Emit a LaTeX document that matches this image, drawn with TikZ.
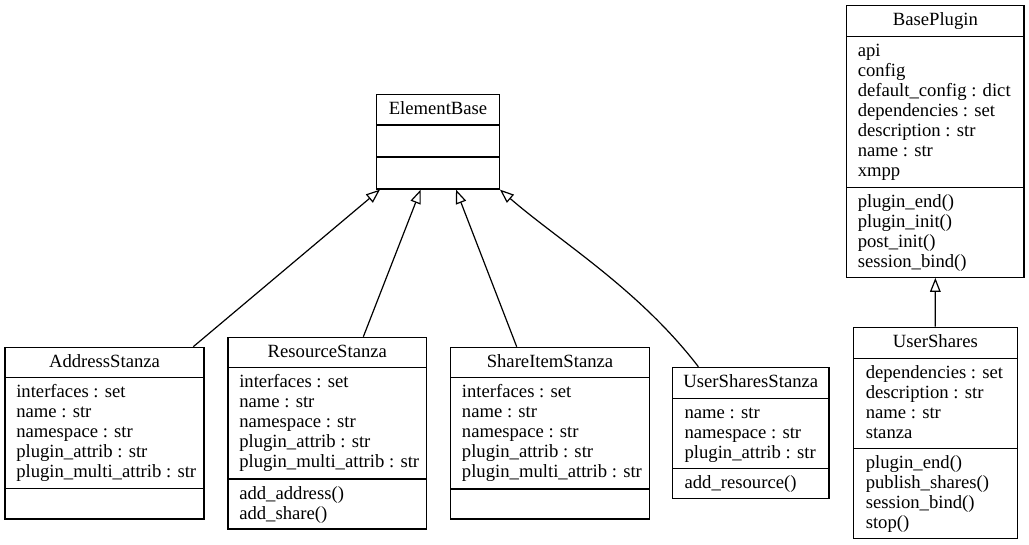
\documentclass[tikz,border=0pt]{standalone}
\usepackage{fontspec}
\setmainfont{Liberation Serif}
\usetikzlibrary{arrows.meta}
% class box: name, left, top, right, bottom, first divider, second divider, title
\newcommand{\classbox}[8]{%
  \node[classbox, minimum width={(#4-#2)*0.75pt}, minimum height={(#5-#3)*0.75pt}] (#1) at ({(#2+#4)/2},{(#3+#5)/2}) {};
  \draw[line width=0.9pt] (#2,#6) -- (#4,#6);
  \draw[line width=0.9pt] (#2,#7) -- (#4,#7);
  \node[anchor=base] (#1-name) at ({(#2+#4)/2},#3+20) {#8};
}

\begin{document}
\begin{tikzpicture}[x=0.75pt, y=-0.75pt, font=\fontsize{14}{15}\selectfont,
  classbox/.style={draw, line width=0.9pt, inner sep=0pt},
  rows/.style={anchor=base west, inner sep=0pt},
  inherit/.style={line width=0.9pt, -{Triangle[open, length=10.5pt, width=8pt]}}]
			%%%%% START %%%%%
			\useasboundingbox (0,0) rectangle (1029,545);
			
			\classbox{eb}{376.7}{94.5}{499.3}{189}{125}{157}{ElementBase}
			
			\classbox{bp}{846.7}{5.5}{1024}{277.3}{36.5}{187.3}{BasePlugin}
			\node[rows] (bp-attr) at (857.5,56.5) {\begin{tabular}[t]{@{}l@{}}api\\config\\default\_config : dict\\dependencies : set\\description : str\\name : str\\xmpp\end{tabular}};
			\node[rows] (bp-meth) at (857.5,207.3) {\begin{tabular}[t]{@{}l@{}}plugin\_end()\\plugin\_init()\\post\_init()\\session\_bind()\end{tabular}};
			
			\classbox{us}{853.3}{327.3}{1017.3}{538.3}{358.3}{448.3}{UserShares}
			\node[rows] (us-attr) at (865.5,378.3) {\begin{tabular}[t]{@{}l@{}}dependencies : set\\description : str\\name : str\\stanza\end{tabular}};
			\node[rows] (us-meth) at (865.5,468.3) {\begin{tabular}[t]{@{}l@{}}plugin\_end()\\publish\_shares()\\session\_bind()\\stop()\end{tabular}};
			
			\classbox{as}{5}{347.3}{204}{519}{377.7}{488.5}{AddressStanza}
			\node[rows] (as-attr) at (16,397.7) {\begin{tabular}[t]{@{}l@{}}interfaces : set\\name : str\\namespace : str\\plugin\_attrib : str\\plugin\_multi\_attrib : str\end{tabular}};
			
			\classbox{rs}{228}{337.3}{426.7}{529}{367.7}{479}{ResourceStanza}
			\node[rows] (rs-attr) at (239,387.7) {\begin{tabular}[t]{@{}l@{}}interfaces : set\\name : str\\namespace : str\\plugin\_attrib : str\\plugin\_multi\_attrib : str\end{tabular}};
			\node[rows] (rs-meth) at (239,499) {\begin{tabular}[t]{@{}l@{}}add\_address()\\add\_share()\end{tabular}};
			
			\classbox{ss}{450.7}{347.3}{649.3}{519}{377.7}{489}{ShareItemStanza}
			\node[rows] (ss-attr) at (461.7,397.7) {\begin{tabular}[t]{@{}l@{}}interfaces : set\\name : str\\namespace : str\\plugin\_attrib : str\\plugin\_multi\_attrib : str\end{tabular}};
			
			\classbox{uss}{672.7}{367.3}{829}{498.7}{398.3}{468.3}{UserSharesStanza}
			\node[rows] (uss-attr) at (684.3,418.3) {\begin{tabular}[t]{@{}l@{}}name : str\\namespace : str\\plugin\_attrib : str\end{tabular}};
			\node[rows] (uss-meth) at (684.3,488.3) {\begin{tabular}[t]{@{}l@{}}add\_resource()\end{tabular}};
			
			\draw[inherit] ([shift={(88.8,0)}]as.north) -- ([shift={(-58,0)}]eb.south);
			\draw[inherit] ([shift={(36,0)}]rs.north) -- ([shift={(-17.3,0)}]eb.south);
			\draw[inherit] ([shift={(-33.3,0)}]ss.north) -- ([shift={(18,0)}]eb.south);
			\draw[inherit] ([shift={(-52.5,0)}]uss.north) .. controls +(-60,-78) and +(60,52) .. (eb.south east);
			\draw[inherit] (us.north) -- (bp.south);
			
			%%%%% END %%%%%
\end{tikzpicture}
\end{document}
